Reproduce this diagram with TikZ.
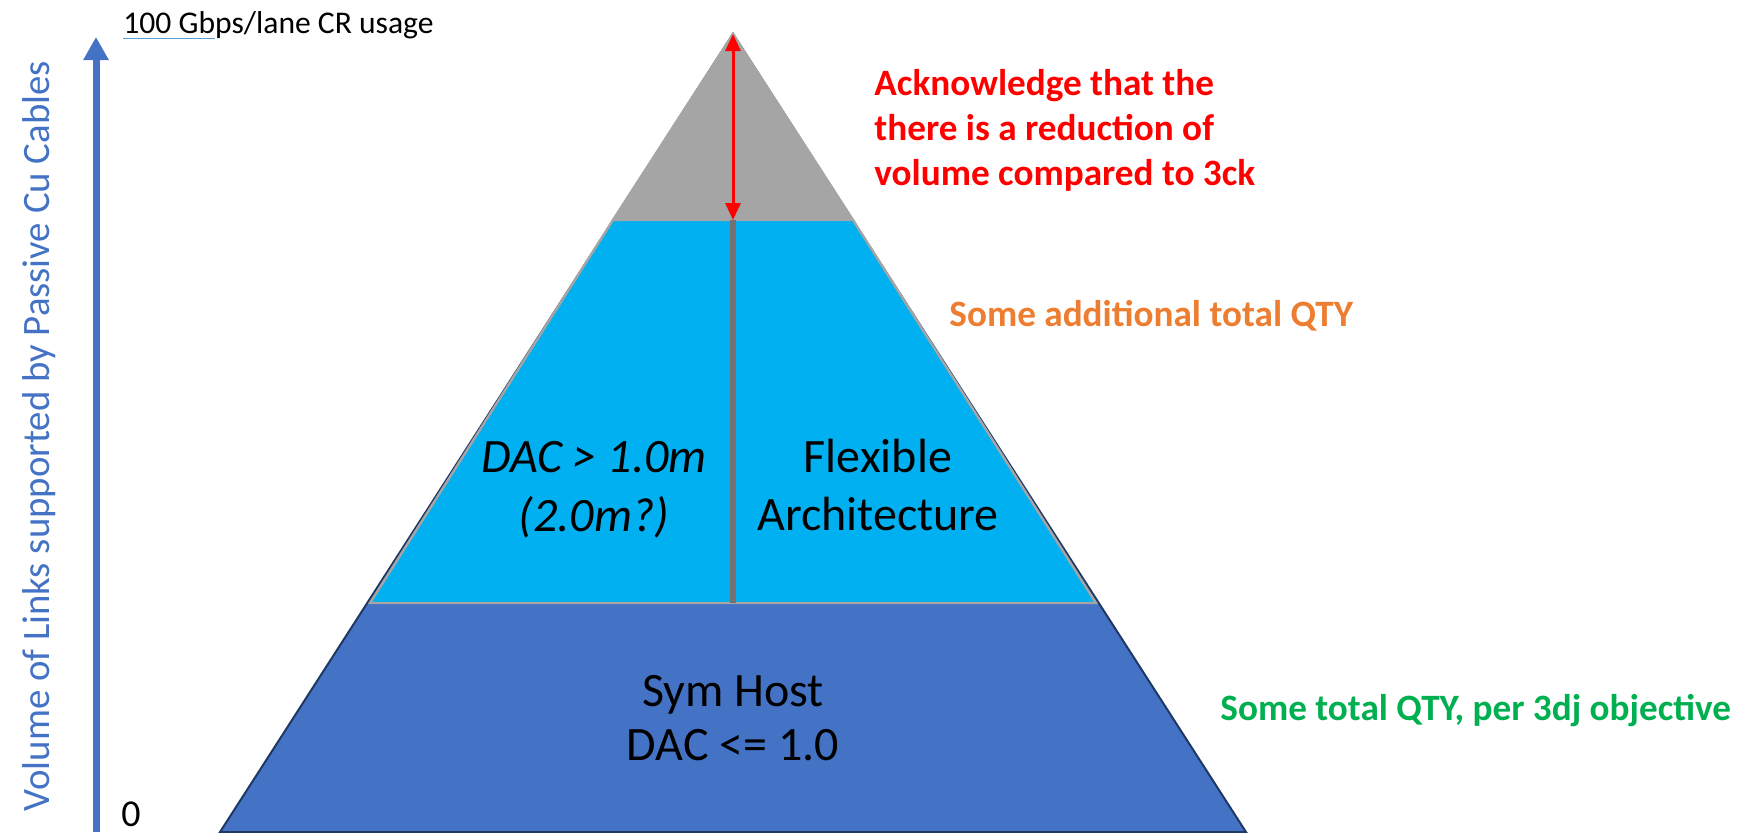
\documentclass[tikz,border=0pt]{standalone}
\usepackage{fontspec}
\setmainfont{Carlito}
\usepackage{tikz}
\usetikzlibrary{arrows.meta,positioning}
\definecolor{hostblue}{HTML}{4472C4}
\definecolor{flexcyan}{HTML}{00B0F0}
\definecolor{capgrey}{HTML}{A5A5A5}
\definecolor{edgenavy}{HTML}{1F3864}
\definecolor{splitgrey}{HTML}{767171}
\definecolor{noteorange}{HTML}{ED7D31}
\definecolor{notegreen}{HTML}{00B050}
\definecolor{inkblue}{HTML}{5B9BD5}
\tikzset{
    %Define standard arrow tip
    >={Triangle[width=7.5pt,length=8.5pt]},
    %Define style for text inside the pyramid
    tier/.style={
           font=\fontsize{24}{29.3}\selectfont,
           align=center,
           inner sep=0pt,
           text=black},
    %Define style for notes on the right
    note/.style={
           font=\fontsize{18.6}{22.5}\selectfont\bfseries,
           align=left,
           inner sep=0pt},
    axislabel/.style={
           font=\fontsize{19.4}{23}\selectfont,
           inner sep=0pt,
           text=hostblue},
    % Define arrow style
    gap/.style={
           <->,
           red,
           line width=1.5pt},
    rise/.style={
           -{Triangle[width=12pt,length=11.5pt]},
           hostblue,
           line width=3.5pt}
}
\begin{document}
\begin{tikzpicture}[x=0.5pt,y=-0.5pt]
\useasboundingbox (0,0) rectangle (1752,832);

 %pyramid corners
\coordinate (apex) at (733,34);
\coordinate (baseL) at (220,832);
\coordinate (baseR) at (1246,832);
\coordinate (capL) at (613,220);
\coordinate (capR) at (853,220);
\coordinate (capM) at (733,220);
\coordinate (flexL) at (370,603);
\coordinate (flexR) at (1096,603);
\coordinate (flexM) at (733,603);

 %layers
\draw[fill=hostblue, draw=edgenavy, line width=1pt] (apex) -- (baseR) -- (baseL) -- cycle;
\draw[fill=capgrey, draw=capgrey, line width=1.2pt] (apex) -- (capR) -- (capL) -- cycle;
\draw[fill=flexcyan, draw=capgrey, line width=1.2pt] (capL) -- (capR) -- (flexR) -- (flexL) -- cycle;
\draw[splitgrey, line width=3pt] (capM) -- (flexM);
\draw[gap] (apex) -- (capM);

 %axis
\coordinate (axis0) at (96,832);
\coordinate (axisT) at (96,37);
\draw[rise] (axis0) -- (axisT);
\node[axislabel, rotate=90] (vol) at (39,436) {Volume of Links supported by Passive Cu Cables};
\node[font=\fontsize{15.8}{19}\selectfont, inner sep=0pt, anchor=base west] (usage) at (123,33) {100 Gbps/lane CR usage};
\draw[inkblue, line width=0.5pt] ([yshift=-2.5pt]usage.base west) -- ++(92,0);
\node[font=\fontsize{19}{23}\selectfont, inner sep=0pt] (zero) at (131,814) {0};

 %tier labels
\node[tier, font=\fontsize{24}{27}\selectfont] (sym) at (733,718) {Sym Host\\DAC <= 1.0};
\node[tier, font=\fontsize{24}{29.3}\selectfont\itshape] (dac) at (594,490) {DAC > 1.0m\\(2.0m?)};
\node[tier] (flex) at (878,485) {Flexible\\Architecture};

 %notes
\node[note, text=red, anchor=north west] (ack) at (874,69) {Acknowledge that the\\there is a reduction of\\volume compared to 3ck};
\node[note, text=noteorange, anchor=base west] (extra) at (949,326) {Some additional total QTY};
\node[note, text=notegreen, anchor=base west] (total) at (1220,720) {Some total QTY, per 3dj objective};
\end{tikzpicture}
\end{document}
